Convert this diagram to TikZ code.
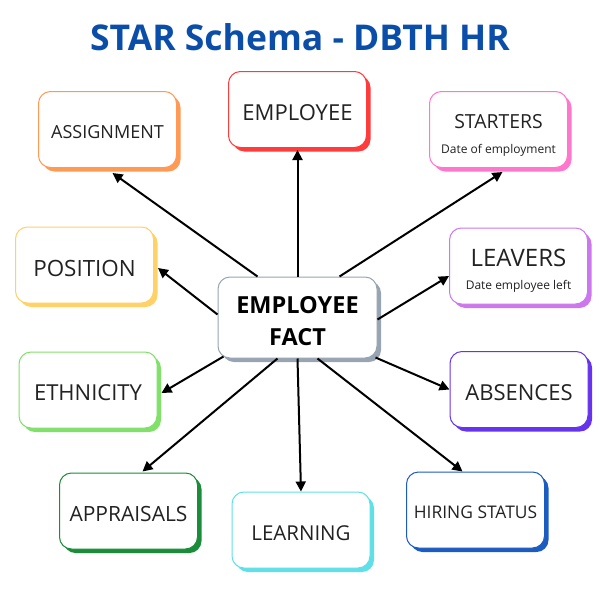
\documentclass[tikz,border=0pt]{standalone}
\usepackage{fontspec}
\setmainfont{Open Sans}
\usetikzlibrary{shadows,arrows.meta,calc}
\definecolor{titleblue}{HTML}{0B4EAA}
\definecolor{txt}{HTML}{222222}
\definecolor{cassign}{HTML}{FF9A55}
\definecolor{cemp}{HTML}{FF3B3B}
\definecolor{cstart}{HTML}{FF77CC}
\definecolor{cpos}{HTML}{FFD166}
\definecolor{cleave}{HTML}{CC77EE}
\definecolor{ceth}{HTML}{80E06A}
\definecolor{cabs}{HTML}{6633EE}
\definecolor{capp}{HTML}{1A8C3A}
\definecolor{clearn}{HTML}{5EE0E8}
\definecolor{chire}{HTML}{1A5CC0}
\definecolor{cfact}{HTML}{97A4B2}
\newcommand{\fs}[1]{\fontsize{#1}{1.2\dimexpr#1pt\relax}\selectfont}
\begin{document}
\begin{tikzpicture}[x=1pt,y=-1pt,
  box/.style={draw=#1, fill=white, line width=1pt, rounded corners=12pt,
    minimum width=138pt, minimum height=76pt, inner sep=0pt, align=center,
    text=txt, execute at begin node={\rule{0pt}{1em}},
    drop shadow={shadow xshift=4pt, shadow yshift=-4pt, fill=#1, opacity=1}},
  arr/.style={line width=2pt, draw=black, -{Triangle[length=10pt,width=10pt]}}
]
\useasboundingbox (0,0) rectangle (600,600);
\node[text=titleblue, font=\bfseries\fontsize{35.5}{38}\selectfont] (title) at (300,37) {STAR Schema - DBTH HR};

\node[box=cassign, font=\fs{18}] (assign) at (107.5,129.5) {ASSIGNMENT};
\node[box=cemp, font=\fs{22}] (emp) at (297.5,109.5) {EMPLOYEE};
\node[box=cstart, font=\fs{19.4}] (start) at (498.5,129.5) {\rule{0pt}{1.3em}STARTERS\\[2pt]{\fs{12}Date of employment}};
\node[box=cpos, font=\fs{22.4}] (pos) at (84.5,265) {POSITION};
\node[box=cleave, font=\fs{24}] (leave) at (518.5,266) {\rule{0pt}{1.15em}LEAVERS\\[-6pt]{\fs{12}Date employee left}};
\node[box=ceth, font=\fs{22}] (eth) at (88,390) {ETHNICITY};
\node[box=cabs, font=\fs{22}] (abs) at (519,389.5) {ABSENCES};
\node[box=capp, font=\fs{21}] (app) at (128.5,511) {APPRAISALS};
\node[box=clearn, font=\fs{20.5}] (learn) at (301,530) {LEARNING};
\node[box=chire, font=\fs{17.4}] (hire) at (475.5,510) {HIRING STATUS};
\node[box=cfact, minimum width=159pt, minimum height=81pt,
  font=\bfseries\fontsize{23.5}{31.5}\selectfont, text=black] (fact) at (297.5,317.5) {\rule{0pt}{1.05em}EMPLOYEE\\FACT};

\draw[arr] ($(fact.north)+(-40,0)$) -- ($(assign.south)+(5,5)$);
\draw[arr] (fact.north) -- ($(emp.south)+(0,2)$);
\draw[arr] ($(fact.north)+(42,0)$) -- ($(start.south)+(4,4)$);
\draw[arr] ($(fact.west)+(0,-3)$) -- ($(pos.east)+(4,3)$);
\draw[arr] ($(fact.east)+(0,2)$) -- ($(leave.west)+(0,10)$);
\draw[arr] ($(fact.south west)+(6,-2)$) -- ($(eth.east)+(4,3)$);
\draw[arr] ($(fact.south east)+(-2,-1)$) -- (abs.west);
\draw[arr] ($(fact.south)+(-20,0)$) -- ($(app.north)+(14,-1)$);
\draw[arr] (fact.south) -- (learn.north);
\draw[arr] ($(fact.south)+(20,0)$) -- ($(hire.north)+(-13,0)$);
\end{tikzpicture}
\end{document}
